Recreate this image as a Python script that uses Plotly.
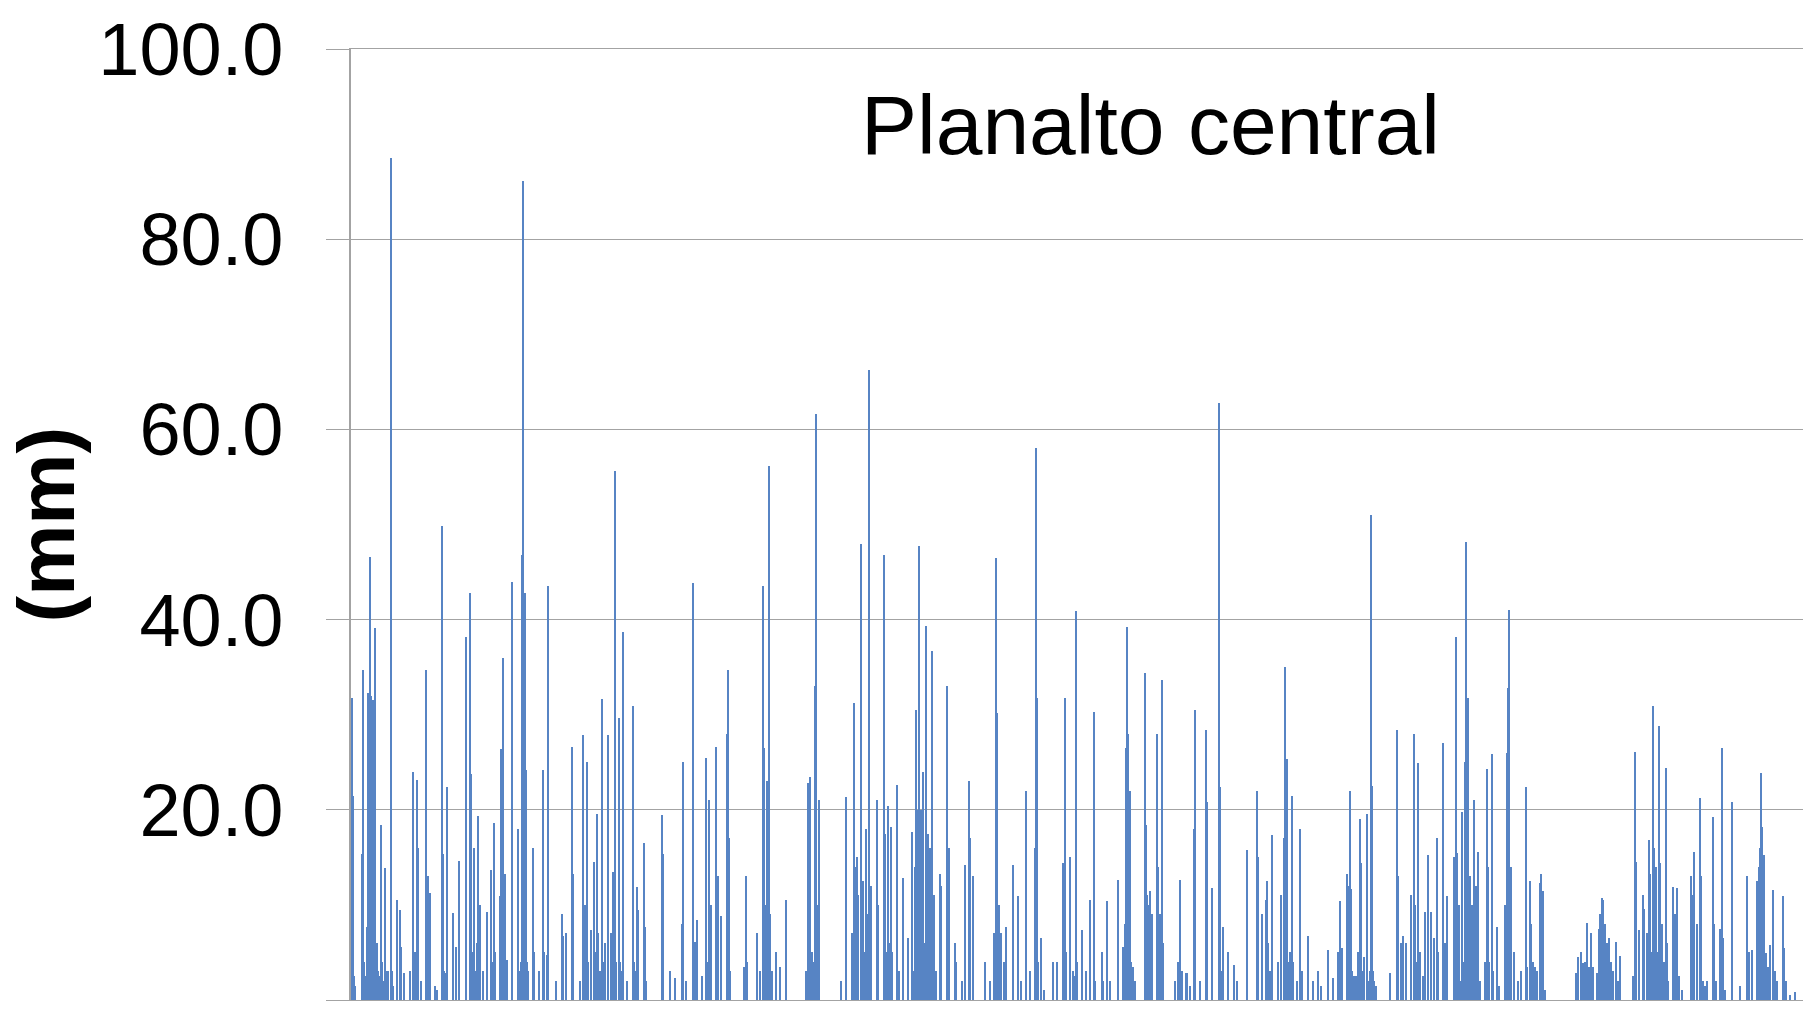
import plotly.graph_objects as go

# Daily rainfall (mm), one block per rainy season.
# dia = day number counted from the start of the series; mm = rainfall on that day.
dia_1 = [1, 2, 3, 11, 12, 16, 17, 18, 19, 20, 21, 22, 23, 24, 25, 26, 30, 34, 35, 37, 40, 46, 49, 50, 53,
         59, 62, 64, 66, 67, 70, 75, 77, 79, 84, 86, 91, 92, 94, 96, 102, 105, 108, 115, 119, 120, 123,
         127, 129, 132, 136, 140, 143, 149, 150, 152, 154, 156, 161, 167, 169, 171, 172, 174, 175, 176,
         182, 183, 188, 192, 196, 197, 205, 211, 212, 215, 221, 222, 229, 232, 234, 236, 237]
mm_1 = [31.8, 21.5, 2.5, 15.4, 34.7, 7.7, 32.3, 5.3, 46.6, 32.0, 5.0, 31.5, 6.0, 39.1, 5.0, 6.0, 18.4, 13.9,
        3.0, 3.0, 88.5, 10.5, 9.5, 5.6, 2.8, 3.0, 24.0, 5.0, 23.1, 16.0, 2.0, 34.7, 13.0, 11.2, 1.5, 1.0,
        49.8, 15.4, 2.8, 22.4, 9.1, 5.6, 14.6, 38.2, 42.8, 23.8, 16.0, 19.3, 10.0, 3.0, 9.3, 13.7, 18.6,
        10.9, 26.4, 36.0, 13.3, 4.2, 44.0, 18.0, 3.0, 46.8, 86.1, 42.8, 24.2, 4.0, 16.0, 5.0, 3.0, 24.2,
        4.7, 43.5, 2.0, 9.0, 6.7, 7.0, 26.6, 13.3, 2.0, 27.9, 10.0, 25.0, 4.0]

dia_2 = [240, 243, 246, 247, 249, 251, 254, 257, 260, 262, 263, 264, 268, 269, 272, 276, 282, 283, 286,
         287, 293, 294, 295, 311, 312, 319, 324, 331, 332, 335, 342, 344, 346, 351, 355, 358, 360, 365,
         367, 370, 376, 377, 378, 379, 393, 395, 396, 406, 409, 412, 413, 415, 416, 418, 419, 421, 425,
         429, 435, 455, 457, 459, 461, 464, 465, 466, 468]
mm_2 = [7.4, 14.5, 19.6, 7.0, 3.0, 31.6, 6.0, 27.9, 7.0, 13.5, 9.5, 55.6, 29.7, 4.0, 38.7, 2.0, 30.9, 4.0,
        11.9, 9.5, 16.5, 7.7, 2.0, 19.5, 15.4, 3.0, 2.3, 8.0, 25.0, 2.0, 43.9, 6.1, 8.4, 2.5, 25.4, 21.0,
        10.0, 26.6, 13.0, 8.8, 28.0, 34.7, 17.0, 3.0, 3.5, 13.0, 4.0, 7.0, 3.0, 43.5, 26.5, 10.0, 23.0,
        56.2, 9.0, 3.0, 5.0, 3.5, 10.5, 3.0, 22.8, 23.5, 5.0, 33.0, 61.6, 10.0, 21.0]

dia_3 = [490, 495, 501, 503, 504, 506, 507, 510, 512, 513, 515, 517, 518, 520, 526, 527, 533, 534, 537,
         540, 541, 546, 548, 552, 557, 561, 562, 564, 565, 567, 568, 570, 572, 575, 577, 579, 581, 583,
         585, 589, 590, 596, 598, 604, 605, 611, 614, 618, 619, 622, 634, 639, 643, 645, 646, 648, 650,
         653, 655, 662, 667, 670, 675, 679, 684, 685, 686, 690, 693, 702, 706, 712, 714, 715, 719, 722,
         725, 726]
mm_3 = [2.0, 21.3, 7.0, 31.2, 14.0, 15.0, 11.0, 47.9, 12.5, 2.0, 18.0, 9.0, 66.2, 12.0, 21.0, 10.0, 46.8,
        17.5, 20.4, 18.2, 5.0, 22.6, 3.0, 12.8, 6.5, 17.7, 3.0, 14.0, 30.5, 20.0, 47.7, 20.0, 24.0, 39.3,
        17.5, 16.0, 36.7, 11.0, 3.0, 13.3, 12.0, 33.0, 16.0, 6.0, 4.0, 2.0, 14.2, 23.0, 17.0, 13.0, 4.0,
        2.0, 7.0, 46.5, 30.2, 10.0, 7.0, 4.0, 7.7, 14.2, 10.9, 2.0, 22.0, 3.0, 16.0, 58.0, 31.8, 6.5, 1.0,
        4.0, 4.0, 14.4, 31.8, 5.0, 15.0, 3.0, 40.9, 4.0]

dia_4 = [731, 735, 739, 743, 744, 751, 752, 756, 759, 767, 772, 774, 775, 776, 777, 779, 780, 782, 784,
         794, 795, 796, 797, 798, 799, 801, 806, 807, 809, 811, 812, 824, 827, 829, 831, 835, 836, 839,
         843, 844, 849, 855, 856, 861, 868, 869, 872, 877, 883, 886, 896, 906, 907, 911, 915, 916, 919,
         921, 927, 930, 933, 934, 936, 939, 941, 942, 946, 949, 951, 957, 962, 967, 970]
mm_4 = [7.4, 3.0, 10.5, 30.3, 2.0, 5.0, 2.0, 10.4, 2.0, 12.6, 5.6, 8.0, 26.5, 39.2, 28.0, 22.0, 4.0, 3.5,
        2.0, 34.4, 18.4, 11.0, 10.0, 9.0, 11.5, 9.0, 28.0, 14.0, 9.0, 33.7, 6.0, 2.0, 4.0, 12.6, 3.0, 2.8,
        2.8, 1.5, 18.0, 30.5, 2.0, 28.4, 20.8, 11.8, 62.8, 22.4, 7.7, 5.0, 3.7, 2.0, 15.8, 22.0, 15.0,
        9.0, 10.5, 12.5, 3.0, 17.4, 4.0, 11.0, 17.0, 35.0, 25.3, 5.0, 21.4, 4.0, 2.0, 18.0, 3.0, 6.7, 2.0,
        3.0, 1.5]

dia_5 = [977, 982, 987, 989, 991, 996, 998, 999, 1000, 1003, 1005, 1007, 1009, 1010, 1013, 1016, 1018,
         1020, 1021, 1022, 1025, 1039, 1046, 1047, 1050, 1052, 1055, 1060, 1063, 1064, 1067, 1069, 1072,
         1074, 1077, 1080, 1083, 1086, 1087, 1092, 1094, 1096, 1103, 1105, 1106, 1108, 1109, 1111, 1114,
         1115, 1116, 1117, 1119, 1121, 1123, 1125, 1127, 1129, 1134, 1136, 1137, 1141, 1142, 1146, 1148,
         1154, 1156, 1157, 1158, 1160, 1163, 1167, 1170, 1175, 1176, 1179, 1180, 1182, 1184, 1186, 1189,
         1190, 1192, 1194]
mm_5 = [5.3, 2.3, 5.0, 10.4, 5.5, 13.2, 12.0, 22.0, 11.7, 2.5, 2.5, 5.0, 19.0, 14.4, 4.5, 19.6, 2.0, 51.0,
        22.5, 3.0, 1.5, 2.8, 28.4, 13.0, 6.0, 6.7, 6.0, 11.0, 28.0, 10.0, 24.9, 5.0, 2.5, 9.3, 15.3, 9.3,
        6.5, 17.0, 5.0, 27.0, 6.0, 10.9, 15.0, 38.2, 15.5, 10.0, 2.0, 19.8, 25.0, 48.2, 22.5, 31.8, 13.0,
        10.0, 21.0, 12.0, 15.6, 2.0, 4.0, 24.3, 14.0, 25.9, 3.0, 7.7, 1.5, 10.0, 26.0, 32.8, 41.0, 14.0,
        5.0, 2.0, 3.0, 22.4, 3.5, 12.5, 8.0, 4.0, 3.5, 3.0, 12.3, 13.2, 11.5, 1.0]

dia_6 = [1225, 1227, 1230, 1232, 1234, 1236, 1238, 1240, 1242, 1246, 1248, 1249, 1251, 1252, 1254, 1256,
         1258, 1260, 1262, 1265, 1267, 1269, 1282, 1284, 1285, 1288, 1292, 1293, 1296, 1298, 1299, 1302,
         1303, 1305, 1308, 1309, 1311, 1313, 1315, 1316, 1317, 1322, 1324, 1326, 1328, 1331, 1340, 1341,
         1343, 1346, 1349, 1350, 1352, 1354, 1356, 1362, 1363, 1365, 1369, 1371, 1372, 1374, 1381, 1389,
         1396, 1398, 1401, 1406, 1408, 1409, 1410, 1411, 1413, 1415, 1417, 1419, 1422, 1424, 1426, 1432,
         1433, 1435, 1439, 1444]
mm_6 = [2.8, 4.5, 5.0, 3.9, 4.0, 8.1, 3.5, 7.0, 3.5, 2.8, 7.5, 9.0, 10.7, 10.5, 8.0, 6.0, 6.5, 4.0, 3.0,
        6.1, 2.0, 4.6, 2.5, 26.1, 14.5, 7.4, 11.0, 9.6, 7.0, 16.8, 13.3, 30.9, 16.0, 14.0, 28.8, 14.4, 8.0,
        4.0, 24.4, 6.0, 2.0, 11.9, 9.0, 11.8, 2.5, 1.0, 13.0, 11.0, 15.6, 8.0, 21.2, 13.0, 2.0, 1.5, 2.0,
        19.2, 8.0, 2.0, 7.5, 26.5, 6.5, 1.0, 20.8, 1.5, 13.0, 5.0, 5.3, 12.5, 14.0, 16.0, 23.9, 18.2, 15.3,
        4.9, 3.5, 5.8, 11.6, 3.0, 2.0, 10.9, 5.5, 2.0, 0.5, 0.8]

# Light-rain days (drizzle) inside the wet spells.
dia_leve = [4, 13, 14, 27, 28, 31, 32, 41, 42, 93, 121, 122, 124, 126, 141, 142, 144, 151, 153, 170,
            173, 177, 193, 233, 244, 245, 252, 253, 261, 265, 270, 271, 284, 356, 357, 366, 414, 417,
            460, 462, 467, 505, 511, 514, 516, 519, 535, 536, 538, 566, 569, 571, 573, 574, 576, 578,
            580, 597, 644, 647, 687, 713, 724, 773, 778, 800, 808, 810, 870, 917, 935, 937, 997, 1001,
            1008, 1011, 1019, 1023, 1065, 1107, 1112, 1118, 1120, 1122, 1124, 1138, 1155, 1159, 1181,
            1250, 1253, 1255, 1300, 1301, 1304, 1306, 1307, 1310, 1342, 1370, 1407, 1412, 1414]
mm_leve = [1.5, 4.0, 2.5, 3.0, 2.5, 4.0, 2.0, 3.0, 1.5, 3.0, 5.0, 4.0, 3.0, 6.0, 3.0, 4.0, 5.0, 8.0, 5.0,
           4.0, 12.0, 3.0, 5.0, 4.0, 3.0, 5.0, 4.0, 2.5, 3.0, 4.0, 3.0, 2.5, 3.0, 4.0, 3.0, 4.0, 5.0, 6.0,
           5.0, 4.0, 6.0, 4.0, 3.0, 5.0, 4.0, 6.0, 5.0, 4.0, 6.0, 5.0, 7.0, 5.0, 6.0, 4.0, 5.0, 4.0, 3.0,
           3.0, 4.0, 3.0, 4.0, 3.0, 2.5, 5.0, 6.0, 4.0, 5.0, 6.0, 3.0, 6.0, 5.0, 4.0, 5.0, 3.0, 4.0, 3.0,
           3.0, 2.0, 4.0, 3.0, 4.0, 5.0, 3.0, 4.0, 3.0, 4.0, 3.0, 5.0, 3.0, 5.0, 4.0, 5.0, 4.0, 5.0, 6.0,
           4.0, 5.0, 4.0, 3.0, 2.0, 4.0, 5.0, 4.0]

y_ticks = [0, 20, 40, 60, 80, 100]
y_tick_labels = ["0.0", "20.0", "40.0", "60.0", "80.0", "100.0"]
n_days = 1452

dias = dia_1 + dia_2 + dia_3 + dia_4 + dia_5 + dia_6 + dia_leve
mm = mm_1 + mm_2 + mm_3 + mm_4 + mm_5 + mm_6 + mm_leve

grid_color = "#a3a3a3"
font_family = "Liberation Sans, Arial, sans-serif"

fig = go.Figure(
    go.Bar(
        x=dias,
        y=mm,
        width=0.6,
        marker=dict(color="#5784c4", line=dict(width=0)),
        hoverinfo="x+y",
    )
)

fig.update_layout(
    width=1803,
    height=1033,
    margin=dict(l=351, r=0, t=49, b=33),
    paper_bgcolor="white",
    plot_bgcolor="white",
    showlegend=False,
    bargap=0,
    xaxis=dict(
        range=[0, n_days],
        showgrid=False,
        zeroline=False,
        showticklabels=False,
        ticks="",
        showline=True,
        linecolor=grid_color,
        linewidth=1,
        mirror=True,
    ),
    yaxis=dict(
        range=[0, 100],
        tickvals=y_ticks,
        ticktext=y_tick_labels,
        showgrid=True,
        gridcolor=grid_color,
        gridwidth=1,
        zeroline=False,
        ticks="outside",
        ticklen=23,
        tickwidth=1,
        tickcolor=grid_color,
        ticklabelstandoff=28,
        tickfont=dict(family=font_family, size=74, color="black"),
        showline=True,
        linecolor=grid_color,
        linewidth=1.5,
    ),
    annotations=[
        dict(
            text="(mm)",
            xref="paper", yref="paper",
            x=(46 - 351) / 1452, y=0.5,
            xanchor="center", yanchor="middle",
            textangle=-90,
            showarrow=False,
            font=dict(family=font_family, size=80, color="black", weight="bold"),
        ),
        dict(
            text="Planalto central",
            xref="paper", yref="paper",
            x=(1150 - 351) / 1452, y=(1000 - 125) / 951,
            xanchor="center", yanchor="middle",
            showarrow=False,
            font=dict(family=font_family, size=84, color="black"),
        ),
    ],
)

fig.write_html("out.html")
